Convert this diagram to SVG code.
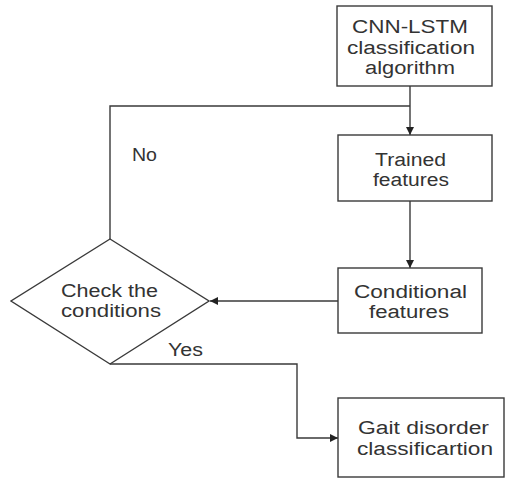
<svg xmlns="http://www.w3.org/2000/svg" width="506" height="478" viewBox="0 0 506 478">
<style>
.box{fill:#fff;stroke:#3a3a3a;stroke-width:1.4}
.ln{fill:none;stroke:#3a3a3a;stroke-width:1.4}
text{font-family:"Liberation Sans",Arial,sans-serif;font-size:18px;fill:#333;text-anchor:middle}
</style>
<defs>
<marker id="ah" viewBox="0 0 10 10" refX="10" refY="5" markerWidth="8" markerHeight="8" markerUnits="userSpaceOnUse" orient="auto">
<path d="M0,0 L10,5 L0,10 z" fill="#222"/>
</marker>
</defs>
<rect width="506" height="478" fill="#fff"/>
<g id="connectors">
<path class="ln" d="M410,86 V135" marker-end="url(#ah)"/>
<path class="ln" d="M410,106 H110 V239"/>
<path class="ln" d="M410,201 V268" marker-end="url(#ah)"/>
<path class="ln" d="M338,301 H210" marker-end="url(#ah)"/>
<path class="ln" d="M110,364 H297 V438 H338" marker-end="url(#ah)"/>
<text x="144.5" y="161" textLength="25" lengthAdjust="spacingAndGlyphs">No</text>
<text x="185.5" y="356" textLength="35" lengthAdjust="spacingAndGlyphs">Yes</text>
</g>
<g id="cnn">
<rect class="box" x="337" y="6" width="155" height="80"/>
<text x="410" y="33" textLength="116" lengthAdjust="spacingAndGlyphs">CNN-LSTM</text>
<text x="411" y="53.5" textLength="128" lengthAdjust="spacingAndGlyphs">classification</text>
<text x="410" y="74" textLength="90" lengthAdjust="spacingAndGlyphs">algorithm</text>
</g>
<g id="trained">
<rect class="box" x="338" y="135" width="154" height="66"/>
<text x="410.5" y="166" textLength="71" lengthAdjust="spacingAndGlyphs">Trained</text>
<text x="411" y="186" textLength="76" lengthAdjust="spacingAndGlyphs">features</text>
</g>
<g id="conditional">
<rect class="box" x="338" y="268" width="144" height="65"/>
<text x="410.5" y="298" textLength="113" lengthAdjust="spacingAndGlyphs">Conditional</text>
<text x="409" y="318" textLength="80" lengthAdjust="spacingAndGlyphs">features</text>
</g>
<g id="check">
<polygon class="box" points="110,239 209,301 110,364 11,301"/>
<text x="109.5" y="297" textLength="97" lengthAdjust="spacingAndGlyphs">Check the</text>
<text x="111" y="317" textLength="100" lengthAdjust="spacingAndGlyphs">conditions</text>
</g>
<g id="gait">
<rect class="box" x="338" y="398" width="166" height="79"/>
<text x="423.5" y="434" textLength="131" lengthAdjust="spacingAndGlyphs">Gait disorder</text>
<text x="425" y="455" textLength="136" lengthAdjust="spacingAndGlyphs">classificartion</text>
</g>
</svg>
